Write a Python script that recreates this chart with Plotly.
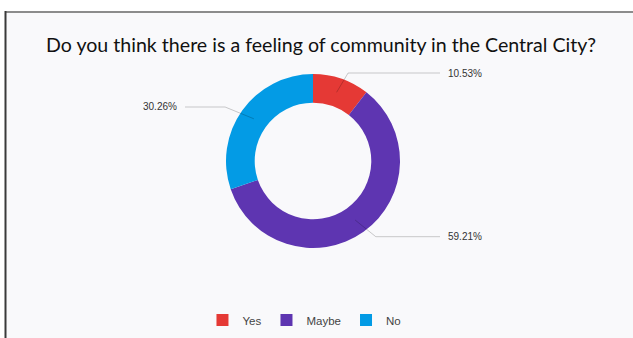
import math
import plotly.graph_objects as go

# ---- data ----
categories = ["Yes", "Maybe", "No"]
counts = [8, 45, 23]
percent_labels = ["10.53%", "59.21%", "30.26%"]
colors = ["#E53935", "#5E35B1", "#039BE5"]
title_text = "Do you think there is a feeling of community in the Central City?"

W, H = 633, 338
cx, cy, R = 313, 161, 87
hole = 0.67

fig = go.Figure()
fig.add_trace(go.Pie(
    labels=categories, values=counts, hole=hole, sort=False,
    direction="clockwise", rotation=0,
    marker=dict(colors=colors, line=dict(width=0)),
    textinfo="none", hoverinfo="label+percent",
    domain=dict(x=[(cx - R) / W, (cx + R) / W], y=[1 - (cy + R) / H, 1 - (cy - R) / H]),
))

shapes = [
    dict(type="rect", xref="x", yref="y", x0=6, x1=W, y0=12, y1=H,
         fillcolor="#f9f9fb", line=dict(width=0), layer="below"),
    dict(type="line", xref="x", yref="y", x0=5, x1=W, y0=12, y1=12,
         line=dict(color="#8c8c8c", width=2), layer="below"),
    dict(type="line", xref="x", yref="y", x0=5.5, x1=5.5, y0=11, y1=H,
         line=dict(color="#3a3a3a", width=2), layer="below"),
]
annotations = []

total = sum(counts)
cum = 0
r_mid = R * (1 + hole) / 2
for v, lab in zip(counts, percent_labels):
    t = 2 * math.pi * (cum + v / 2) / total
    cum += v
    s, c = math.sin(t), math.cos(t)
    x0, y0 = cx + r_mid * s, cy - r_mid * c
    x1, y1 = cx + 108 * s, cy - 93 * c
    right = s >= 0
    x2 = 440 if right else 185
    shapes.append(dict(type="path", xref="x", yref="y",
                       path=f"M{x0:.1f},{y0:.1f} L{x1:.1f},{y1:.1f} L{x2},{y1:.1f}",
                       line=dict(color="rgba(0,0,0,0.2)", width=1), layer="above"))
    annotations.append(dict(xref="x", yref="y", x=(446 if right else 179), y=y1,
                            text=lab, showarrow=False,
                            xanchor="left" if right else "right", yanchor="middle",
                            font=dict(family="Liberation Sans, Arial", size=10, color="#333333")))

annotations.append(dict(xref="x", yref="y", x=321, y=44, text=title_text, showarrow=False,
                        xanchor="center", yanchor="middle",
                        font=dict(family="Lato", size=19.6, color="#111111")))

fig.update_layout(
    width=W, height=H,
    margin=dict(l=0, r=0, t=0, b=0),
    paper_bgcolor="white", plot_bgcolor="rgba(0,0,0,0)",
    xaxis=dict(range=[0, W], visible=False, domain=[0, 1], fixedrange=True),
    yaxis=dict(range=[H, 0], visible=False, domain=[0, 1], fixedrange=True),
    shapes=shapes, annotations=annotations,
    showlegend=True,
    legend=dict(orientation="h", x=0.481, xanchor="center", y=1 - 320 / H, yanchor="middle",
                font=dict(family="Liberation Sans, Arial", size=11.5, color="#444444"),
                bgcolor="rgba(0,0,0,0)", itemwidth=30, tracegroupgap=0),
)

fig.write_html("out.html", config={"displayModeBar": False})
